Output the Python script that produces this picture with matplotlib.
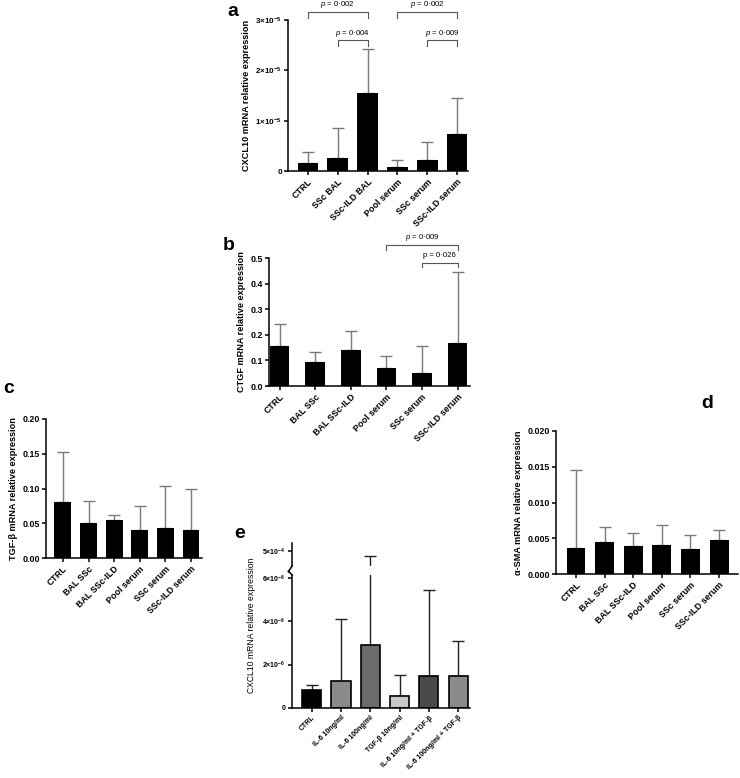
import matplotlib
matplotlib.use("Agg")
import matplotlib.pyplot as plt
import numpy as np

plt.rcParams['font.family'] = ['Liberation Sans', 'DejaVu Sans']
plt.rcParams['mathtext.fontset'] = 'custom'
plt.rcParams['mathtext.it'] = 'Liberation Sans:italic'
plt.rcParams['mathtext.rm'] = 'Liberation Sans'
plt.rcParams['mathtext.bf'] = 'Liberation Sans:bold'

# ---------------- data ----------------
cats_a = ["CTRL", "SSc BAL", "SSc-ILD BAL", "Pool serum", "SSc serum", "SSc-ILD serum"]
mean_a = [1.5e-6, 2.6e-6, 1.55e-5, 0.7e-6, 2.1e-6, 7.3e-6]
top_a = [3.7e-6, 8.5e-6, 2.43e-5, 2.2e-6, 5.7e-6, 1.45e-5]
yticks_a = [0, 1e-5, 2e-5, 3e-5]
ytl_a = ["0", r"$\mathbf{1{\times}10^{-5}}$", r"$\mathbf{2{\times}10^{-5}}$", r"$\mathbf{3{\times}10^{-5}}$"]

cats_bcd = ["CTRL", "BAL SSc", "BAL SSc-ILD", "Pool serum", "SSc serum", "SSc-ILD serum"]
mean_b = [0.158, 0.092, 0.140, 0.072, 0.052, 0.167]
top_b = [0.242, 0.131, 0.215, 0.116, 0.156, 0.444]
yticks_b = [0.0, 0.1, 0.2, 0.3, 0.4, 0.5]

mean_c = [0.081, 0.051, 0.055, 0.041, 0.043, 0.041]
top_c = [0.153, 0.082, 0.062, 0.075, 0.103, 0.100]
yticks_c = [0.00, 0.05, 0.10, 0.15, 0.20]

mean_d = [0.0037, 0.0045, 0.0039, 0.0041, 0.0035, 0.0047]
top_d = [0.0145, 0.0066, 0.0057, 0.0068, 0.0055, 0.0061]
yticks_d = [0.000, 0.005, 0.010, 0.015, 0.020]

cats_e = ["CTRL", "IL-6 10ng/ml", "IL-6 100ng/ml", "TGF-β 10ng/ml",
          "IL-6 10ng/ml + TGF-β", "IL-6 100ng/ml + TGF-β"]
mean_e = [0.84e-6, 1.26e-6, 2.91e-6, 0.54e-6, 1.46e-6, 1.49e-6]
top_e = [1.06e-6, 4.09e-6, 4.87e-4, 1.50e-6, 5.44e-6, 3.07e-6]
colors_e = ["#000000", "#8a8a8a", "#6b6b6b", "#c8c8c8", "#4a4a4a", "#8a8a8a"]
yticks_e = [0, 2e-6, 4e-6, 6e-6]
ytl_e = ["0", r"$\mathbf{2{\times}10^{-6}}$", r"$\mathbf{4{\times}10^{-6}}$", r"$\mathbf{6{\times}10^{-6}}$"]
ytick_e_top = 5e-4
ytl_e_top = r"$\mathbf{5{\times}10^{-4}}$"

pvals_a = [("CTRL", "SSc-ILD BAL", "0·002", 0), ("SSc BAL", "SSc-ILD BAL", "0·004", 1),
           ("Pool serum", "SSc-ILD serum", "0·002", 0), ("SSc serum", "SSc-ILD serum", "0·009", 1)]
pvals_b = [("Pool serum", "SSc-ILD serum", "0·009", 0, True), ("SSc serum", "SSc-ILD serum", "0·026", 1, False)]

W, H = 740, 778
fig = plt.figure(figsize=(W / 100, H / 100), dpi=100)


def ax_px(l, t, r, b):
    return fig.add_axes([l / W, 1 - b / H, (r - l) / W, (b - t) / H])


def style(ax, fs_tick=6.3, lw=1.1):
    for s in ["top", "right"]:
        ax.spines[s].set_visible(False)
    for s in ["left", "bottom"]:
        ax.spines[s].set_linewidth(lw)
    ax.tick_params(axis='both', width=lw, length=3, labelsize=fs_tick, pad=1.5)


def bar_panel(ax, cats, mean, top, width, xlim, ylim, yticks, ytl, ylabel,
              fs=6.4, ecol="#7a7a7a"):
    x = np.arange(len(cats))
    ax.bar(x, mean, width=width, color="black", zorder=2)
    up = np.array(top) - np.array(mean)
    ax.errorbar(x, mean, yerr=[np.zeros(len(x)), up], fmt='none', ecolor=ecol,
                elinewidth=1.0, capsize=4, capthick=1.0, zorder=1)
    ax.set_xlim(*xlim)
    ax.set_ylim(*ylim)
    ax.set_yticks(yticks)
    if ytl is not None:
        ax.set_yticklabels(ytl)
    ax.set_xticks(x)
    ax.set_xticklabels(cats, rotation=45, ha='right', rotation_mode='anchor',
                       fontweight='bold', fontsize=fs)
    for lab in ax.get_yticklabels():
        lab.set_fontweight('bold')
    ax.set_ylabel(ylabel, fontweight='bold', fontsize=6.6, labelpad=3)
    style(ax, fs_tick=fs)


# ---------------- panel a ----------------
ax_a = ax_px(288, 20, 468, 171)
bar_panel(ax_a, cats_a, mean_a, top_a, 0.7, (-0.67, 5.37), (0, 3e-5), yticks_a, ytl_a,
          "CXCL10 mRNA relative expression")
for lab in ax_a.get_yticklabels():
    lab.set_fontsize(5.8)
br_y = [(3.16e-5, 3.04e-5, 3.3e-5), (2.6e-5, 2.49e-5, 2.74e-5)]
for c1, c2, p, lvl in pvals_a:
    x1, x2 = cats_a.index(c1), cats_a.index(c2)
    yb, ya, yt = br_y[lvl]
    ax_a.plot([x1, x1, x2, x2], [ya, yb, yb, ya], color="#555555", lw=0.8, clip_on=False)
    ax_a.text((x1 + x2) / 2, yt, r"$\mathit{p}$ = " + p, ha='center', va='center',
              fontsize=5.6)
fig.text(233 / W, 1 - 12 / H, "a", fontsize=14, fontweight='bold', ha='center', va='center')

# ---------------- panel b ----------------
ax_b = ax_px(269, 258, 470, 386)
bar_panel(ax_b, cats_bcd, mean_b, top_b, 0.55, (-0.3, 5.35), (0, 0.5), yticks_b,
          ["0.0", "0.1", "0.2", "0.3", "0.4", "0.5"], "CTGF mRNA relative expression")
br_yb = [(0.551, 0.531, 0.582), (0.48, 0.463, 0.509)]
for c1, c2, p, lvl, it in pvals_b:
    x1, x2 = cats_bcd.index(c1), cats_bcd.index(c2)
    yb, ya, yt = br_yb[lvl]
    ax_b.plot([x1, x1, x2, x2], [ya, yb, yb, ya], color="#555555", lw=0.8, clip_on=False)
    lbl = (r"$\mathit{p}$ = " if it else "p = ") + p
    ax_b.text((x1 + x2) / 2, yt, lbl, ha='center', va='center', fontsize=5.6)
fig.text(229 / W, 1 - 245 / H, "b", fontsize=14, fontweight='bold', ha='center', va='center')

# ---------------- panel c ----------------
ax_c = ax_px(46, 419, 202, 558)
bar_panel(ax_c, cats_bcd, mean_c, top_c, 0.66, (-0.66, 5.43), (0, 0.2), yticks_c,
          ["0.00", "0.05", "0.10", "0.15", "0.20"], "TGF-β mRNA relative expression")
fig.text(9 / W, 1 - 388 / H, "c", fontsize=14, fontweight='bold', ha='center', va='center')

# ---------------- panel d ----------------
ax_d = ax_px(556, 431, 738, 574)
bar_panel(ax_d, cats_bcd, mean_d, top_d, 0.66, (-0.7, 5.66), (0, 0.02), yticks_d,
          ["0.000", "0.005", "0.010", "0.015", "0.020"], "α-SMA mRNA relative expression")
fig.text(707 / W, 1 - 404 / H, "d", fontsize=14, fontweight='bold', ha='center', va='center')

# ---------------- panel e ----------------
ax_e = ax_px(292, 575, 470, 708)
ax_et = ax_px(292, 543, 470, 566)
xe = np.arange(len(cats_e))
up_e = np.array(top_e) - np.array(mean_e)
lower_top = 6.12e-6
for ax in (ax_e, ax_et):
    ax.bar(xe, mean_e, width=0.65, color=colors_e, edgecolor="black", linewidth=1.2, zorder=2)
    ax.errorbar(xe, mean_e, yerr=[np.zeros(len(xe)), up_e], fmt='none', ecolor="#222222",
                elinewidth=1.0, capsize=4, capthick=1.0, zorder=1)
    ax.set_xlim(-0.67, 5.4)
ax_e.set_ylim(0, lower_top)
ax_et.set_ylim(4.6e-4, 5.2e-4)
ax_e.set_yticks(yticks_e)
ax_e.set_yticklabels(ytl_e)
ax_et.set_yticks([ytick_e_top])
ax_et.set_yticklabels([ytl_e_top])
ax_e.set_xticks(xe)
ax_e.set_xticklabels(cats_e, rotation=45, ha='right', rotation_mode='anchor',
                     fontweight='bold', fontsize=5.0)
style(ax_e, fs_tick=5.0)
style(ax_et, fs_tick=5.0)
ax_e.spines['top'].set_visible(False)
ax_et.spines['bottom'].set_visible(False)
ax_et.set_xticks([])
for ax in (ax_e, ax_et):
    for lab in ax.get_yticklabels():
        lab.set_fontweight('bold')
        lab.set_fontsize(5.0)
# break marks
ax_et.plot([0.0, -0.02], [0.0, -0.25], transform=ax_et.transAxes, color='black',
           lw=1.1, clip_on=False)
ax_e.plot([-0.02, 0.0], [1.03, 1.0], transform=ax_e.transAxes, color='black',
          lw=1.1, clip_on=False)
fig.text(252 / W, 1 - 625 / H, "CXCL10 mRNA relative expression", rotation=90,
         fontsize=6.2, ha='center', va='center')
fig.text(240 / W, 1 - 533 / H, "e", fontsize=14, fontweight='bold', ha='center', va='center')

fig.savefig("out.png", dpi=100)
